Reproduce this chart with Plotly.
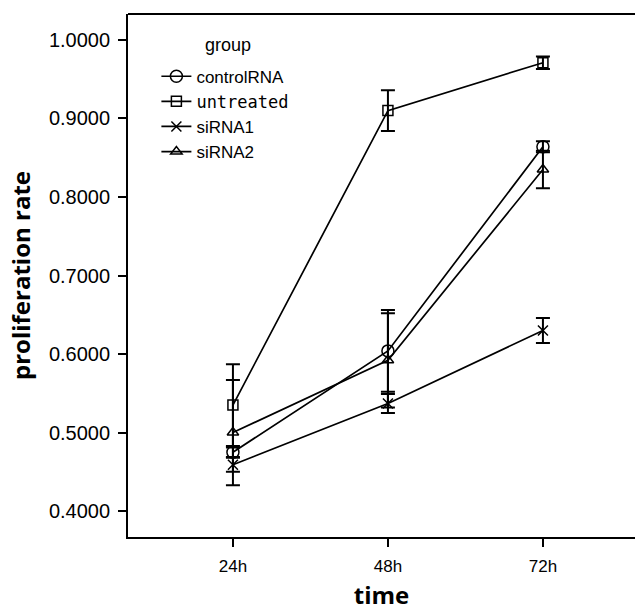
import plotly.graph_objects as go

times = ["24h", "48h", "72h"]
groups = ["controlRNA", "untreated", "siRNA1", "siRNA2"]

control_vals = [0.475, 0.604, 0.864]
control_err = [0.006, 0.052, 0.007]
untreated_vals = [0.535, 0.910, 0.971]
untreated_err = [0.052, 0.026, 0.008]
sirna1_vals = [0.459, 0.537, 0.630]
sirna1_err = [0.009, 0.012, 0.016]
sirna2_vals = [0.500, 0.592, 0.835]
sirna2_err = [0.067, 0.060, 0.024]

yticks = [0.4, 0.5, 0.6, 0.7, 0.8, 0.9, 1.0]
ytick_text = ["0.4000", "0.5000", "0.6000", "0.7000", "0.8000", "0.9000", "1.0000"]

series = [
    (groups[0], control_vals, control_err, "circle-open", 12),
    ('<span style="font-family:DejaVu Sans Mono">untreated</span>', untreated_vals, untreated_err, "square-open", 10),
    (groups[2], sirna1_vals, sirna1_err, "x-thin-open", 10),
    (groups[3], sirna2_vals, sirna2_err, "triangle-up-open", 10),
]

fig = go.Figure()
for name, vals, err, sym, sz in series:
    fig.add_trace(go.Scatter(
        x=times, y=vals, name=name, mode="lines+markers",
        line=dict(color="black", width=1.7),
        marker=dict(symbol=sym, size=sz, color="black", line=dict(color="black", width=1.5)),
        error_y=dict(type="data", array=err, visible=True, color="black", thickness=2, width=7),
    ))

fig.update_layout(
    width=635, height=611,
    margin=dict(l=128, r=0, t=14, b=74),
    paper_bgcolor="white", plot_bgcolor="white",
    font=dict(family="Liberation Sans, Arial", color="black", size=17),
    showlegend=True,
    legend=dict(x=0.056, y=0.9145, xanchor="left", yanchor="top",
                font=dict(size=17, family="Liberation Sans, Arial"),
                bgcolor="rgba(0,0,0,0)", tracegroupgap=0, itemwidth=30),
    xaxis=dict(type="category", range=[-0.677, 2.594], showline=True, linecolor="black", linewidth=1.8,
               ticks="outside", ticklen=8, tickwidth=1.5, tickcolor="black", showgrid=False,
               tickfont=dict(size=17), zeroline=False, automargin=False, ticklabelstandoff=5,
               title=dict(text="<b>time</b>", font=dict(size=24, family="Open Sans"), standoff=24)),
    yaxis=dict(range=[0.367, 1.033], showline=True, linecolor="black", linewidth=1.8,
               ticks="outside", ticklen=8, tickwidth=1.5, tickcolor="black", showgrid=False,
               tickvals=yticks, ticktext=ytick_text, tickfont=dict(size=20), zeroline=False,
               automargin=False, ticklabelstandoff=4,
               title=dict(text="<b>proliferation rate</b>", font=dict(size=24, family="Open Sans"), standoff=12)),
    shapes=[dict(type="line", xref="paper", yref="paper", x0=0, x1=1, y0=1, y1=1,
                 line=dict(color="black", width=1.8))],
    annotations=[dict(text="group", xref="paper", yref="paper", x=(203 - 128) / 507, y=(537 - 45) / 523,
                      xanchor="left", yanchor="middle", showarrow=False, font=dict(size=18))],
)

fig.write_html("out.html", config={"displayModeBar": False},
               post_script="document.body.style.margin='0';document.body.style.padding='0';")
